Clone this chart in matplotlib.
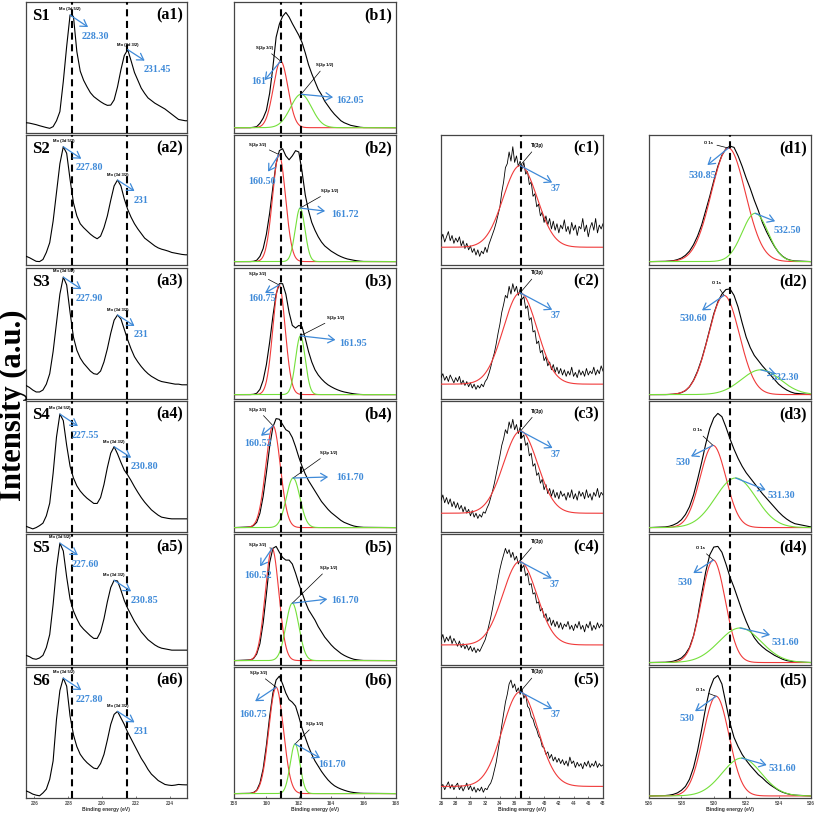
import numpy as np
import matplotlib
matplotlib.use("Agg")
import matplotlib.pyplot as plt

# ====================== DATA ======================
sample_names = ["S1", "S2", "S3", "S4", "S5", "S6"]

# ---- column a : Mo 3d (normalised intensity) ----
a_energy = np.round(np.arange(225.5, 235.15, 0.2), 2)
a1_intensity = [0.075, 0.072, 0.066, 0.060, 0.052, 0.045, 0.038, 0.032, 0.045, 0.090,
                0.160, 0.390, 0.660, 0.900, 0.890, 0.620, 0.470, 0.400, 0.350, 0.305,
                0.275, 0.255, 0.236, 0.220, 0.208, 0.210, 0.250, 0.350, 0.480, 0.590,
                0.635, 0.550, 0.460, 0.400, 0.340, 0.300, 0.265, 0.245, 0.225, 0.210,
                0.195, 0.180, 0.160, 0.140, 0.120, 0.100, 0.095, 0.090, 0.090]
a2_intensity = [0.071, 0.060, 0.046, 0.032, 0.030, 0.046, 0.100, 0.175, 0.340, 0.560,
                0.780, 0.910, 0.860, 0.660, 0.480, 0.380, 0.320, 0.290, 0.265, 0.240,
                0.220, 0.205, 0.225, 0.290, 0.380, 0.500, 0.610, 0.655, 0.610, 0.510,
                0.430, 0.370, 0.320, 0.280, 0.245, 0.210, 0.190, 0.170, 0.150, 0.135,
                0.125, 0.118, 0.110, 0.100, 0.095, 0.090, 0.085, 0.082, 0.082]
a3_intensity = [0.100, 0.085, 0.065, 0.050, 0.050, 0.065, 0.110, 0.190, 0.360, 0.580,
                0.800, 0.930, 0.870, 0.660, 0.470, 0.370, 0.310, 0.270, 0.240, 0.210,
                0.190, 0.185, 0.210, 0.280, 0.380, 0.500, 0.600, 0.640, 0.610, 0.530,
                0.450, 0.380, 0.320, 0.280, 0.245, 0.215, 0.190, 0.170, 0.155, 0.140,
                0.130, 0.125, 0.120, 0.115, 0.110, 0.110, 0.105, 0.105, 0.105]
a4_intensity = [0.040, 0.030, 0.020, 0.030, 0.045, 0.064, 0.120, 0.217, 0.446, 0.725,
                0.900, 0.850, 0.660, 0.500, 0.410, 0.350, 0.310, 0.280, 0.255, 0.235,
                0.215, 0.215, 0.260, 0.360, 0.490, 0.600, 0.650, 0.595, 0.530, 0.470,
                0.433, 0.390, 0.343, 0.300, 0.260, 0.225, 0.195, 0.166, 0.145, 0.125,
                0.110, 0.105, 0.100, 0.097, 0.097, 0.097, 0.097, 0.097, 0.097]
a5_intensity = [0.070, 0.060, 0.045, 0.040, 0.050, 0.070, 0.130, 0.230, 0.460, 0.740,
                0.930, 0.870, 0.670, 0.500, 0.410, 0.350, 0.300, 0.270, 0.245, 0.220,
                0.200, 0.200, 0.250, 0.350, 0.480, 0.590, 0.645, 0.640, 0.570, 0.490,
                0.430, 0.380, 0.330, 0.290, 0.250, 0.220, 0.190, 0.170, 0.150, 0.135,
                0.125, 0.120, 0.115, 0.110, 0.110, 0.110, 0.110, 0.110, 0.110]
a6_intensity = [0.051, 0.040, 0.026, 0.018, 0.013, 0.035, 0.064, 0.140, 0.280, 0.600,
                0.820, 0.915, 0.853, 0.624, 0.480, 0.390, 0.331, 0.295, 0.267, 0.245,
                0.225, 0.220, 0.260, 0.330, 0.440, 0.560, 0.637, 0.660, 0.610, 0.560,
                0.500, 0.450, 0.400, 0.350, 0.300, 0.260, 0.215, 0.179, 0.155, 0.130,
                0.115, 0.100, 0.095, 0.092, 0.095, 0.100, 0.098, 0.097, 0.097]
a_peak1_values = ["228.30", "227.80", "227.90", "227.55", "227.60", "227.80"]
a_peak2_values = ["231.45", "231", "231", "230.80", "230.85", "231"]
a_ref_lines = [228.2, 231.45]

# ---- column b : S 2p ----
b_energy = [158.0] + list(np.round(np.arange(159.0, 166.01, 0.2), 2)) + [168.0]
b1_envelope = [0.037, 0.037, 0.040, 0.045, 0.070, 0.110, 0.170, 0.300, 0.500, 0.730,
               0.830, 0.890, 0.920, 0.885, 0.835, 0.790, 0.745, 0.690, 0.610, 0.520,
               0.450, 0.390, 0.330, 0.290, 0.240, 0.205, 0.170, 0.140, 0.115, 0.090,
               0.075, 0.065, 0.055, 0.050, 0.045, 0.040, 0.038, 0.037]
b2_envelope = [0.030, 0.030, 0.032, 0.040, 0.070, 0.130, 0.240, 0.400, 0.600, 0.780,
               0.880, 0.895, 0.840, 0.810, 0.840, 0.880, 0.870, 0.720, 0.540, 0.420,
               0.330, 0.270, 0.220, 0.180, 0.150, 0.130, 0.110, 0.095, 0.080, 0.068,
               0.058, 0.050, 0.045, 0.040, 0.036, 0.033, 0.031, 0.030]
b3_envelope = [0.030, 0.030, 0.032, 0.040, 0.070, 0.140, 0.260, 0.430, 0.630, 0.800,
               0.880, 0.880, 0.800, 0.660, 0.560, 0.540, 0.560, 0.550, 0.460, 0.360,
               0.280, 0.220, 0.180, 0.150, 0.125, 0.105, 0.090, 0.077, 0.066, 0.057,
               0.050, 0.045, 0.040, 0.036, 0.033, 0.031, 0.030, 0.030]
b4_envelope = [0.030, 0.035, 0.045, 0.070, 0.140, 0.270, 0.450, 0.650, 0.800, 0.865,
               0.860, 0.820, 0.780, 0.765, 0.720, 0.650, 0.570, 0.500, 0.440, 0.390,
               0.350, 0.310, 0.270, 0.230, 0.200, 0.170, 0.145, 0.125, 0.105, 0.085,
               0.070, 0.060, 0.050, 0.042, 0.037, 0.034, 0.032, 0.030]
b5_envelope = [0.030, 0.035, 0.045, 0.080, 0.160, 0.320, 0.540, 0.780, 0.890, 0.905,
               0.860, 0.820, 0.800, 0.800, 0.770, 0.700, 0.620, 0.550, 0.480, 0.420,
               0.380, 0.340, 0.290, 0.250, 0.210, 0.180, 0.150, 0.125, 0.105, 0.085,
               0.070, 0.058, 0.048, 0.040, 0.036, 0.033, 0.031, 0.030]
b6_envelope = [0.030, 0.032, 0.038, 0.055, 0.110, 0.220, 0.400, 0.620, 0.800, 0.900,
               0.930, 0.870, 0.800, 0.750, 0.730, 0.700, 0.620, 0.530, 0.460, 0.390,
               0.330, 0.280, 0.240, 0.200, 0.166, 0.135, 0.110, 0.090, 0.076, 0.065,
               0.056, 0.048, 0.042, 0.038, 0.035, 0.033, 0.032, 0.030]
b_baseline = [0.037, 0.030, 0.030, 0.030, 0.030, 0.030]
b_red_center = [160.88, 160.78, 160.78, 160.41, 160.35, 160.60]
b_red_height = [0.51, 0.82, 0.84, 0.78, 0.86, 0.815]
b_red_width = [0.45, 0.40, 0.38, 0.45, 0.42, 0.45]
b_green_center = [162.14, 162.08, 162.10, 161.65, 161.60, 161.77]
b_green_height = [0.256, 0.41, 0.45, 0.38, 0.44, 0.38]
b_green_width = [0.65, 0.30, 0.30, 0.42, 0.40, 0.30]
b_red_values = ["161", "160.50", "160.75", "160.52", "160.52", "160.75"]
b_green_values = ["162.05", "161.72", "161.95", "161.70", "161.70", "161.70"]
b_ref_lines = [160.9, 162.12]

# ---- column c : Ti 3p ----
c_energy = np.round(np.arange(26.0, 48.01, 0.25), 2)
c1_counts = [0.20, 0.24, 0.18, 0.22, 0.26, 0.19, 0.23, 0.17, 0.21, 0.18, 0.22, 0.15, 0.19,
             0.13, 0.17, 0.12, 0.15, 0.10, 0.13, 0.08, 0.12, 0.07, 0.11, 0.09, 0.14, 0.10,
             0.16, 0.20, 0.24, 0.28, 0.33, 0.39, 0.45, 0.56, 0.64, 0.75, 0.78, 0.87, 0.80,
             0.91, 0.79, 0.84, 0.76, 0.80, 0.74, 0.79, 0.70, 0.72, 0.62, 0.64, 0.53, 0.55,
             0.45, 0.47, 0.38, 0.41, 0.33, 0.38, 0.31, 0.36, 0.28, 0.34, 0.27, 0.32, 0.25,
             0.31, 0.28, 0.35, 0.26, 0.30, 0.24, 0.33, 0.27, 0.31, 0.23, 0.30, 0.28, 0.36,
             0.26, 0.31, 0.22, 0.29, 0.33, 0.27, 0.36, 0.25, 0.31, 0.28, 0.32]
c2_counts = [0.16, 0.19, 0.14, 0.17, 0.13, 0.18, 0.15, 0.12, 0.16, 0.13, 0.17, 0.11, 0.14,
             0.10, 0.13, 0.09, 0.12, 0.08, 0.11, 0.07, 0.10, 0.08, 0.11, 0.09, 0.13, 0.15,
             0.19, 0.24, 0.30, 0.35, 0.42, 0.50, 0.57, 0.66, 0.72, 0.79, 0.77, 0.86, 0.80,
             0.88, 0.82, 0.86, 0.79, 0.84, 0.76, 0.78, 0.69, 0.71, 0.60, 0.62, 0.51, 0.52,
             0.42, 0.44, 0.35, 0.37, 0.29, 0.32, 0.25, 0.28, 0.22, 0.26, 0.20, 0.24, 0.19,
             0.23, 0.18, 0.22, 0.17, 0.21, 0.18, 0.24, 0.17, 0.20, 0.16, 0.22, 0.18, 0.21,
             0.17, 0.23, 0.18, 0.21, 0.19, 0.24, 0.18, 0.22, 0.19, 0.25, 0.21]
c3_counts = [0.24, 0.28, 0.22, 0.26, 0.21, 0.25, 0.19, 0.23, 0.18, 0.22, 0.17, 0.20, 0.15,
             0.19, 0.14, 0.17, 0.12, 0.16, 0.11, 0.14, 0.10, 0.13, 0.11, 0.15, 0.14, 0.18,
             0.21, 0.26, 0.31, 0.37, 0.44, 0.51, 0.58, 0.66, 0.71, 0.78, 0.75, 0.84, 0.79,
             0.86, 0.78, 0.82, 0.75, 0.80, 0.72, 0.74, 0.66, 0.68, 0.58, 0.60, 0.50, 0.52,
             0.43, 0.45, 0.37, 0.40, 0.32, 0.36, 0.29, 0.33, 0.27, 0.32, 0.26, 0.30, 0.25,
             0.31, 0.27, 0.29, 0.24, 0.30, 0.26, 0.32, 0.25, 0.29, 0.24, 0.31, 0.27, 0.30,
             0.25, 0.32, 0.26, 0.29, 0.24, 0.30, 0.27, 0.33, 0.26, 0.30, 0.28]
c4_counts = [0.19, 0.23, 0.17, 0.21, 0.18, 0.22, 0.16, 0.20, 0.17, 0.14, 0.18, 0.13, 0.16,
             0.12, 0.15, 0.11, 0.14, 0.10, 0.13, 0.09, 0.12, 0.10, 0.13, 0.16, 0.19, 0.24,
             0.30, 0.36, 0.43, 0.51, 0.58, 0.66, 0.73, 0.79, 0.84, 0.89, 0.85, 0.88, 0.82,
             0.86, 0.80, 0.83, 0.77, 0.80, 0.74, 0.76, 0.68, 0.70, 0.61, 0.62, 0.54, 0.55,
             0.47, 0.48, 0.41, 0.43, 0.36, 0.39, 0.33, 0.36, 0.30, 0.34, 0.29, 0.33, 0.28,
             0.32, 0.27, 0.31, 0.29, 0.33, 0.27, 0.30, 0.26, 0.31, 0.28, 0.33, 0.27, 0.30,
             0.25, 0.31, 0.28, 0.33, 0.26, 0.30, 0.27, 0.32, 0.28, 0.31, 0.29]
c5_counts = [0.08, 0.10, 0.06, 0.09, 0.12, 0.07, 0.10, 0.06, 0.09, 0.11, 0.06, 0.09, 0.05,
             0.08, 0.11, 0.06, 0.09, 0.05, 0.08, 0.04, 0.07, 0.05, 0.08, 0.04, 0.07, 0.06,
             0.09, 0.11, 0.15, 0.21, 0.27, 0.36, 0.45, 0.55, 0.64, 0.73, 0.79, 0.87, 0.90,
             0.84, 0.87, 0.81, 0.84, 0.79, 0.83, 0.76, 0.79, 0.70, 0.68, 0.62, 0.60, 0.55,
             0.52, 0.47, 0.45, 0.39, 0.38, 0.33, 0.35, 0.30, 0.33, 0.28, 0.31, 0.27, 0.30,
             0.26, 0.29, 0.25, 0.28, 0.24, 0.31, 0.26, 0.28, 0.23, 0.27, 0.24, 0.26, 0.22,
             0.27, 0.24, 0.28, 0.23, 0.26, 0.24, 0.28, 0.23, 0.26, 0.24, 0.25]
c_baseline = [0.14, 0.11, 0.14, 0.15, 0.085]
c_red_center = [36.75, 36.75, 36.80, 36.70, 36.75]
c_red_height = [0.626, 0.70, 0.63, 0.64, 0.725]
c_red_width = [2.3, 2.3, 2.3, 2.3, 2.4]
c_values = ["37", "37", "37", "37", "37"]
c_ref_line = 36.85

# ---- column d : O 1s ----
d_energy = [526.0] + list(np.round(np.arange(527.0, 535.01, 0.25), 2)) + [536.0]
d1_envelope = [0.030, 0.032, 0.034, 0.037, 0.045, 0.057, 0.078, 0.110, 0.160, 0.226,
               0.310, 0.420, 0.530, 0.650, 0.760, 0.845, 0.895, 0.915, 0.905, 0.840,
               0.760, 0.670, 0.590, 0.500, 0.420, 0.330, 0.260, 0.200, 0.145, 0.100,
               0.070, 0.050, 0.040, 0.035, 0.030]
d2_envelope = [0.030, 0.030, 0.031, 0.033, 0.037, 0.045, 0.060, 0.090, 0.140, 0.210,
               0.300, 0.410, 0.530, 0.650, 0.740, 0.800, 0.835, 0.840, 0.790, 0.700,
               0.580, 0.470, 0.390, 0.330, 0.290, 0.250, 0.215, 0.180, 0.145, 0.110,
               0.085, 0.065, 0.050, 0.040, 0.030]
d3_envelope = [0.030, 0.035, 0.040, 0.050, 0.065, 0.090, 0.130, 0.190, 0.280, 0.400,
               0.530, 0.670, 0.790, 0.870, 0.905, 0.880, 0.800, 0.710, 0.630, 0.560,
               0.500, 0.450, 0.410, 0.370, 0.330, 0.290, 0.255, 0.220, 0.185, 0.150,
               0.120, 0.095, 0.075, 0.060, 0.035]
d4_envelope = [0.015, 0.017, 0.020, 0.025, 0.035, 0.050, 0.080, 0.130, 0.220, 0.360,
               0.540, 0.710, 0.840, 0.900, 0.905, 0.860, 0.770, 0.670, 0.590, 0.500,
               0.410, 0.330, 0.260, 0.205, 0.165, 0.135, 0.110, 0.090, 0.070, 0.055,
               0.040, 0.030, 0.025, 0.020, 0.015]
d5_envelope = [0.012, 0.015, 0.018, 0.024, 0.035, 0.055, 0.085, 0.140, 0.230, 0.360,
               0.520, 0.690, 0.830, 0.910, 0.935, 0.870, 0.720, 0.570, 0.460, 0.390,
               0.330, 0.285, 0.245, 0.210, 0.175, 0.150, 0.120, 0.095, 0.075, 0.055,
               0.040, 0.030, 0.022, 0.018, 0.012]
d_baseline = [0.03, 0.03, 0.03, 0.015, 0.012]
d_red_center = [530.90, 530.63, 529.95, 529.97, 530.14]
d_red_height = [0.87, 0.76, 0.63, 0.785, 0.764]
d_red_width = [1.05, 0.95, 0.80, 0.74, 0.80]
d_green_center = [532.55, 532.90, 531.35, 531.62, 531.72]
d_green_height = [0.37, 0.19, 0.38, 0.265, 0.29]
d_green_width = [0.80, 1.20, 1.25, 1.30, 1.20]
d_red_values = ["530.85", "530.60", "530", "530", "530"]
d_green_values = ["532.50", "532.30", "531.30", "531.60", "531.60"]
d_ref_line = 531.0

# ====================== STYLE / LAYOUT ======================
W, H, DPI = 817, 818, 100
SERIF = ["Liberation Serif", "DejaVu Serif"]
SANS = ["Liberation Sans", "DejaVu Sans"]
BLUE = "#3f8ad8"
RED = "#f03a3a"
GREEN = "#74e03a"
FRAME = "#454545"

col_left = [26, 234, 441, 649]
col_width = [161, 162, 162, 162]
row_top = [2 + 133 * i for i in range(6)]
row_h = 130.5

fig = plt.figure(figsize=(W / DPI, H / DPI), dpi=DPI)


def make_ax(col, row, xlim, ticks, bottom):
    l, w, t = col_left[col], col_width[col], row_top[row]
    ax = fig.add_axes([l / W, 1 - (t + row_h) / H, w / W, row_h / H])
    ax.set_xlim(*xlim)
    ax.set_ylim(0, 1)
    ax.set_yticks([])
    for s in ax.spines.values():
        s.set_color(FRAME)
        s.set_linewidth(0.9)
    if bottom:
        ax.set_xticks(ticks)
        ax.tick_params(axis="x", length=1.5, width=0.5, direction="in", pad=2.5,
                       labelsize=3.4, labelcolor="#555555", colors=FRAME)
        for lab in ax.get_xticklabels():
            lab.set_fontfamily(SANS)
            lab.set_fontweight("bold")
        ax.set_xlabel("Binding energy (eV)", fontsize=3.6, fontweight="bold",
                      family=SANS, color="#333333", labelpad=0.5)
    else:
        ax.set_xticks([])
    return ax


def dashed(ax, x):
    ax.axvline(x, color="black", lw=1.5, ls=(0, (3.4, 2.2)), zorder=5)


def corner(ax, text):
    ax.text(0.975, 0.955, text, transform=ax.transAxes, ha="right", va="top",
            fontsize=11.5, fontweight="bold", family=SERIF, zorder=6)


def blue_arrow(ax, xy, off):
    ax.annotate("", xy=xy, xytext=off, textcoords="offset pixels",
                arrowprops=dict(arrowstyle="<-,head_length=0.45,head_width=0.28",
                                color=BLUE, lw=0.9, shrinkA=0, shrinkB=0), zorder=7)


def blue_text(ax, xy, text, off, ha="center"):
    ax.annotate(text, xy=xy, xytext=off, textcoords="offset pixels", ha=ha, va="center",
                fontsize=7.2, fontweight="bold", family=SERIF, color=BLUE, zorder=7)


def small_label(ax, xy, text, off, line=True, size=3.0):
    props = dict(arrowstyle="-", color="black", lw=0.5, shrinkA=1, shrinkB=0) if line else None
    ax.annotate(text, xy=xy, xytext=off, textcoords="offset pixels", ha="center",
                va="center", fontsize=size, fontweight="bold", family=SANS,
                arrowprops=props, zorder=7)


def gauss(x, c, h, s, base):
    return base + h * np.exp(-0.5 * ((x - c) / s) ** 2)


# ---------- column a ----------
a_series = [a1_intensity, a2_intensity, a3_intensity, a4_intensity, a5_intensity, a6_intensity]
for i, y in enumerate(a_series):
    ax = make_ax(0, i, (225.5, 235.0), [226, 228, 230, 232, 234], i == 5)
    y = np.asarray(y)
    ax.plot(a_energy, y, color="black", lw=0.8, zorder=3)
    for xv in a_ref_lines:
        dashed(ax, xv)
    ax.text(0.035, 0.955, sample_names[i], transform=ax.transAxes, ha="left", va="top",
            fontsize=12, fontweight="bold", family=SERIF, zorder=6)
    corner(ax, f"(a{i + 1})")
    m1 = a_energy < 229.5
    m2 = a_energy > 230.0
    k1 = np.argmax(np.where(m1, y, -1))
    k2 = np.argmax(np.where(m2, y, -1))
    p1 = (a_energy[k1], y[k1])
    p2 = (a_energy[k2], y[k2])
    small_label(ax, p1, "Mo (3d 5/2)", (0, 6), line=False)
    blue_arrow(ax, p1, (18, -12))
    blue_text(ax, p1, a_peak1_values[i], (12, -21), ha="left")
    small_label(ax, p2, "Mo (3d 3/2)", (0, 5), line=False)
    blue_arrow(ax, p2, (17, -11))
    blue_text(ax, p2, a_peak2_values[i], (16, -20), ha="left")

# ---------- column b ----------
b_series = [b1_envelope, b2_envelope, b3_envelope, b4_envelope, b5_envelope, b6_envelope]
b_red_lab = [(-16, 13), (-21, 10), (-21, 11), (-15, 16), (-15, 3), (-18, 14)]
b_red_arr = [(-16, -19), (-11, -17), (-14, -8), (-12, -10), (-12, -18), (-21, -14)]
b_red_txt = [(-22, -20), (-17, -27), (-17, -14), (-15, -18), (-14, -27), (-23, -27)]
b_grn_lab = [(24, 29), (30, 17), (35, 18), (35, 25), (36, 35), (20, 20)]
b_grn_arr = [(32, -3), (25, -3), (35, -4), (35, 1), (35, 4), (25, -14)]
b_grn_txt = [(49, -6), (45, -6), (53, -8), (57, 0), (53, 3), (37, -21)]
xb = np.linspace(158, 168, 600)
for i, y in enumerate(b_series):
    ax = make_ax(1, i, (158, 168), [158, 160, 162, 164, 166, 168], i == 5)
    ax.plot(b_energy, y, color="black", lw=0.8, zorder=3)
    ax.plot(xb, gauss(xb, b_red_center[i], b_red_height[i], b_red_width[i], b_baseline[i]),
            color=RED, lw=0.8, zorder=3)
    ax.plot(xb, gauss(xb, b_green_center[i], b_green_height[i], b_green_width[i], b_baseline[i]),
            color=GREEN, lw=0.8, zorder=4)
    for xv in b_ref_lines:
        dashed(ax, xv)
    corner(ax, f"(b{i + 1})")
    pr = (b_red_center[i], b_baseline[i] + b_red_height[i])
    pg = (b_green_center[i], b_baseline[i] + b_green_height[i])
    small_label(ax, pr, "S(2p 3/2)", b_red_lab[i])
    blue_arrow(ax, pr, b_red_arr[i])
    blue_text(ax, pr, b_red_values[i], b_red_txt[i])
    small_label(ax, pg, "S(2p 1/2)", b_grn_lab[i])
    blue_arrow(ax, pg, b_grn_arr[i])
    blue_text(ax, pg, b_green_values[i], b_grn_txt[i])

# ---------- column c ----------
c_series = [c1_counts, c2_counts, c3_counts, c4_counts, c5_counts]
xc = np.linspace(26, 48, 600)
for i, y in enumerate(c_series):
    ax = make_ax(2, i + 1, (26, 48), list(range(26, 49, 2)), i == 4)
    ax.plot(c_energy, y, color="black", lw=0.6, zorder=3)
    ax.plot(xc, gauss(xc, c_red_center[i], c_red_height[i], c_red_width[i], c_baseline[i]),
            color=RED, lw=0.8, zorder=4)
    dashed(ax, c_ref_line)
    corner(ax, f"(c{i + 1})")
    pc = (c_red_center[i], c_baseline[i] + c_red_height[i])
    small_label(ax, pc, "Ti(3p)", (17, 20), size=3.3)
    blue_arrow(ax, pc, (32, -17))
    blue_text(ax, pc, c_values[i], (35, -23))

# ---------- column d ----------
d_series = [d1_envelope, d2_envelope, d3_envelope, d4_envelope, d5_envelope]
d_red_lab = [(-20, 5), (-8, 12), (-16, 15), (-13, 12), (-16, 6)]
d_red_arr = [(-21, -17), (-22, -15), (-22, -11), (-20, -13), (-21, -15)]
d_red_txt = [(-26, -27), (-31, -23), (-30, -17), (-28, -22), (-29, -22)]
d_grn_arr = [(20, -8), (15, -4), (30, -12), (30, -7), (25, -7)]
d_grn_txt = [(32, -17), (25, -8), (46, -18), (45, -15), (41, -10)]
xd = np.linspace(526, 536, 600)
for i, y in enumerate(d_series):
    ax = make_ax(3, i + 1, (526, 536), [526, 528, 530, 532, 534, 536], i == 4)
    ax.plot(d_energy, y, color="black", lw=0.8, zorder=3)
    ax.plot(xd, gauss(xd, d_red_center[i], d_red_height[i], d_red_width[i], d_baseline[i]),
            color=RED, lw=0.8, zorder=3)
    ax.plot(xd, gauss(xd, d_green_center[i], d_green_height[i], d_green_width[i], d_baseline[i]),
            color=GREEN, lw=0.8, zorder=4)
    dashed(ax, d_ref_line)
    corner(ax, f"(d{i + 1})")
    pr = (d_red_center[i], d_baseline[i] + d_red_height[i])
    pg = (d_green_center[i], d_baseline[i] + d_green_height[i])
    small_label(ax, pr, "O 1s", d_red_lab[i])
    blue_arrow(ax, pr, d_red_arr[i])
    blue_text(ax, pr, d_red_values[i], d_red_txt[i])
    blue_arrow(ax, pg, d_grn_arr[i])
    blue_text(ax, pg, d_green_values[i], d_grn_txt[i])

fig.text(0.017, 0.504, "Intensity (a.u.)", rotation=90, ha="center", va="center",
         fontsize=22, fontweight="bold", family=SERIF)

fig.savefig("out.png", dpi=DPI)
